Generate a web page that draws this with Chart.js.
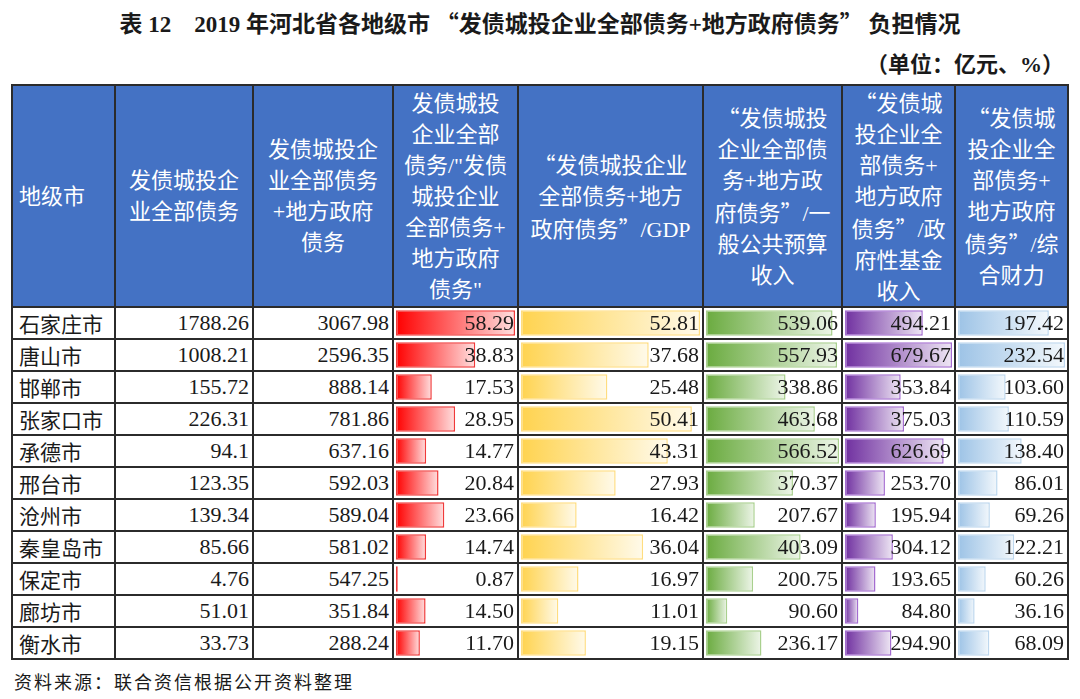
<!DOCTYPE html>
<html>
<head>
<meta charset="utf-8">
<script src="https://cdn.jsdelivr.net/npm/chart.js@4.4.1/dist/chart.umd.min.js"></script>
<style>
  body { margin: 0; background: #fff; width: 1080px; height: 699px; overflow: hidden; position: relative;
         font-family: "Liberation Serif", "Noto Sans CJK SC", serif; color: #1a1a1a; }
  .abs { position: absolute; box-sizing: border-box; }
  .q { font-family: "Noto Sans CJK SC", sans-serif; }
  #title { left: 0; width: 1080px; top: 5px; text-align: center; font-weight: bold; font-size: 23px; white-space: nowrap; }
  #unit { right: 16px; top: 46px; font-weight: bold; font-size: 22px; }
  #source { left: 14px; top: 668px; font-size: 18px; letter-spacing: 2px; font-family: "Noto Sans CJK SC", sans-serif; }
  .head { background: #4472C4; color: #fff; font-size: 22px; line-height: 31px; display: flex;
          align-items: center; justify-content: center; text-align: center; }
  .cell { font-size: 22px; white-space: nowrap; z-index: 3; }
  .num { text-align: right; padding-right: 4px; }
  .city { text-align: left; padding-left: 7px; font-family: "Noto Sans CJK SC", sans-serif; font-size: 21px; }
  .line { background: #2b2b2b; z-index: 4; }
  canvas { position: absolute; z-index: 2; }
</style>
</head>
<body>
<div id="title" class="abs">表 12　2019 年河北省各地级市 <span class="q">“</span>发债城投企业全部债务+地方政府债务<span class="q">”</span> 负担情况</div>
<div id="unit" class="abs">（单位：亿元、%）</div>
<div id="source" class="abs">资料来源：联合资信根据公开资料整理</div>
<script>
// 表格数据
const cities = ["石家庄市", "唐山市", "邯郸市", "张家口市", "承德市", "邢台市", "沧州市", "秦皇岛市", "保定市", "廊坊市", "衡水市"];
const debtUrban = [1788.26, 1008.21, 155.72, 226.31, 94.1, 123.35, 139.34, 85.66, 4.76, 51.01, 33.73];
const debtTotal = [3067.98, 2596.35, 888.14, 781.86, 637.16, 592.03, 589.04, 581.02, 547.25, 351.84, 288.24];
const shareUrban = [58.29, 38.83, 17.53, 28.95, 14.77, 20.84, 23.66, 14.74, 0.87, 14.50, 11.70];
const toGdp = [52.81, 37.68, 25.48, 50.41, 43.31, 27.93, 16.42, 36.04, 16.97, 11.01, 19.15];
const toBudget = [539.06, 557.93, 338.86, 463.68, 566.52, 370.37, 207.67, 403.09, 200.75, 90.60, 236.17];
const toFund = [494.21, 679.67, 353.84, 375.03, 626.69, 253.70, 195.94, 304.12, 193.65, 84.80, 294.90];
const toFiscal = [197.42, 232.54, 103.60, 110.59, 138.40, 86.01, 69.26, 122.21, 60.26, 36.16, 68.09];

const headers = [
  "地级市",
  "发债城投企<br>业全部债务",
  "发债城投企<br>业全部债务<br>+地方政府<br>债务",
  "发债城投<br>企业全部<br>债务/\"发债<br>城投企业<br>全部债务+<br>地方政府<br>债务\"",
  "“发债城投企业<br>全部债务+地方<br>政府债务”/GDP",
  "“发债城投<br>企业全部债<br>务+地方政<br>府债务”/一<br>般公共预算<br>收入",
  "“发债城<br>投企业全<br>部债务+<br>地方政府<br>债务”/政<br>府性基金<br>收入",
  "“发债城<br>投企业全<br>部债务+<br>地方政府<br>债务”/综<br>合财力"
];

// 版面
const colX = [12, 115, 253, 393, 518, 703, 842, 955, 1068];
const headTop = 85, bodyTop = 307, rowH = 32;
const bodyBottom = bodyTop + rowH * cities.length;

const add = (cls, x, y, w, h, html) => {
  const d = document.createElement('div');
  d.className = 'abs ' + cls;
  Object.assign(d.style, { left: x + 'px', top: y + 'px', width: w + 'px', height: h + 'px' });
  if (html !== undefined) d.innerHTML = html;
  document.body.appendChild(d);
  return d;
};

// 表头
headers.forEach((h, i) => {
  const d = add('head', colX[i], headTop, colX[i + 1] - colX[i], bodyTop - headTop,
    '<div>' + h.replace(/[“”]/g, m => '<span class="q">' + m + '</span>') + '</div>');
  if (i === 0) { d.style.justifyContent = 'flex-start'; d.style.paddingLeft = '7px'; }
});

// 数据条列
const barCols = [
  { col: 3, values: shareUrban, rgb: [255, 0, 0], edge: '#f03a3a' },
  { col: 4, values: toGdp, rgb: [255, 211, 79], edge: '#ffdd80' },
  { col: 5, values: toBudget, rgb: [106, 171, 63], edge: '#a9d08e' },
  { col: 6, values: toFund, rgb: [112, 48, 160], edge: '#a46cd0' },
  { col: 7, values: toFiscal, rgb: [157, 195, 230], edge: '#bdd7ee' }
];

const fade = (rgb, t) => 'rgb(' + rgb.map(c => Math.round(c + (255 - c) * t)).join(',') + ')';

const gradientFor = (ctx, rgb) => {
  const chart = ctx.chart;
  if (!chart.chartArea || ctx.type !== 'data') return fade(rgb, 0.4);
  const x = chart.scales.x;
  const x0 = x.getPixelForValue(0);
  const x1 = Math.max(x.getPixelForValue(ctx.raw), x0 + 1);
  const g = chart.ctx.createLinearGradient(x0, 0, x1, 0);
  g.addColorStop(0, fade(rgb, 0));
  g.addColorStop(1, fade(rgb, 0.88));
  return g;
};

barCols.forEach(b => {
  const cv = document.createElement('canvas');
  const w = colX[b.col + 1] - colX[b.col];
  cv.width = w; cv.height = rowH * cities.length;
  Object.assign(cv.style, { left: colX[b.col] + 'px', top: bodyTop + 'px', width: w + 'px', height: cv.height + 'px' });
  document.body.appendChild(cv);
  new Chart(cv, {
    type: 'bar',
    data: {
      labels: cities,
      datasets: [{
        data: b.values,
        backgroundColor: ctx => gradientFor(ctx, b.rgb),
        borderColor: b.edge,
        borderWidth: 1.5,
        borderSkipped: false,
        barPercentage: 0.8,
        categoryPercentage: 1
      }]
    },
    options: {
      indexAxis: 'y',
      responsive: false,
      animation: false,
      devicePixelRatio: 1,
      layout: { padding: { left: 3, right: 3, top: 0, bottom: 0 } },
      plugins: { legend: { display: false }, tooltip: { enabled: false } },
      scales: {
        x: { display: false, min: 0, max: Math.max(...b.values) },
        y: { display: false }
      }
    }
  });
});

// 单元格文字
const columns = [
  cities,
  debtUrban.map(v => String(v)),
  debtTotal.map(v => v.toFixed(2)),
  shareUrban.map(v => v.toFixed(2)),
  toGdp.map(v => v.toFixed(2)),
  toBudget.map(v => v.toFixed(2)),
  toFund.map(v => v.toFixed(2)),
  toFiscal.map(v => v.toFixed(2))
];
columns.forEach((vals, c) => {
  vals.forEach((v, r) => {
    const d = add('cell ' + (c === 0 ? 'city' : 'num'), colX[c], bodyTop + r * rowH, colX[c + 1] - colX[c], rowH, v);
    d.style.lineHeight = rowH + 'px';
  });
});

// 表格线
colX.forEach(x => add('line', x - 1, headTop, 2, bodyBottom - headTop + 1));
add('line', colX[0] - 1, headTop - 1, colX[8] - colX[0] + 2, 2);
for (let r = 0; r <= cities.length; r++) {
  add('line', colX[0], bodyTop + r * rowH - 1, colX[8] - colX[0], 2);
}
</script>
</body>
</html>
